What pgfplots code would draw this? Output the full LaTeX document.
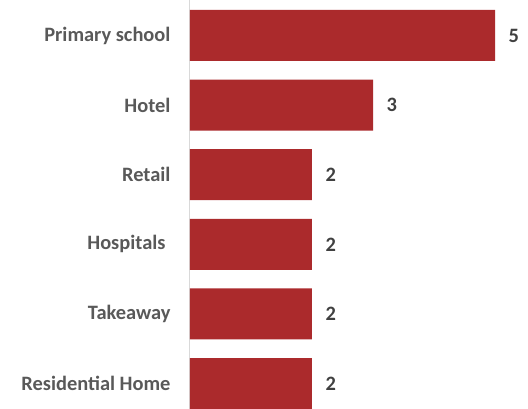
\documentclass[border=0pt]{standalone}
\usepackage{pgfplots}
\pgfplotsset{compat=1.18}
\usepackage{fontspec}
\setmainfont{Carlito}
\definecolor{barred}{HTML}{AB2A2C}
\definecolor{labgray}{HTML}{595959}
\definecolor{valgray}{HTML}{404040}
\definecolor{axgray}{HTML}{D9D9D9}
\begin{document}
\begin{tikzpicture}
\begin{axis}[
  at={(0,0)}, anchor=south west,
  scale only axis,
  width=338bp, height=409bp,
  xmin=0, xmax=5.541,
  ymin=-0.366, ymax=5.51,
  hide x axis,
  axis y line*=left,
  y axis line style={axgray, line width=1bp, -},
  xbar, bar width=51bp,
  ytick={0,1,2,3,4,5},
  yticklabels={Residential Home, Takeaway, Hospitals\rule{5bp}{0pt}, Retail, Hotel, Primary school},
  major tick length=0pt,
  yticklabel style={font=\fontsize{20.5}{24}\selectfont\bfseries, text=labgray, anchor=east, xshift=-16bp},
  nodes near coords,
  nodes near coords style={font=\fontsize{20.5}{24}\selectfont\bfseries, text=valgray, anchor=west, xshift=10bp, /pgf/number format/assume math mode=true},
  point meta=x,
  clip=false,
]
\addplot[draw=none, fill=barred] coordinates {(2,0) (2,1) (2,2) (2,3) (3,4) (5,5)};
\end{axis}
\pgfresetboundingbox
\path[use as bounding box] (-190bp,0) rectangle (338bp,409bp);
\end{tikzpicture}
\end{document}
